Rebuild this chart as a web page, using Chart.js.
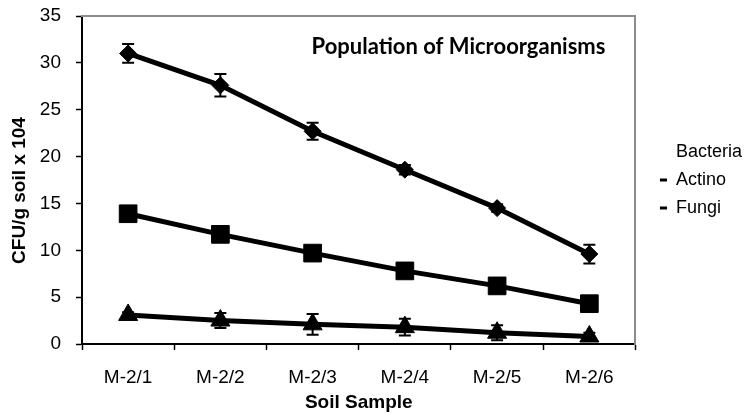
<!DOCTYPE html>
<html>
<head>
<meta charset="utf-8">
<script src="https://cdn.jsdelivr.net/npm/chart.js@4.4.1/dist/chart.umd.min.js"></script>
<style>
  html, body { margin: 0; padding: 0; background: #ffffff; }
  #wrap { width: 746px; height: 416px; }
</style>
</head>
<body>
<div id="wrap"><canvas id="chart" width="746" height="416"></canvas></div>
<script>
// Soil samples along the x axis
const samples = ['M-2/1', 'M-2/2', 'M-2/3', 'M-2/4', 'M-2/5', 'M-2/6'];

// Colony counts (CFU/g soil x 10^4) and their standard errors
const bacteria    = [31.0, 27.6, 22.7, 18.6, 14.5, 9.6];
const bacteriaErr = [1.0, 1.2, 0.9, 0.5, 0.4, 1.0];
const actino      = [13.9, 11.7, 9.7, 7.8, 6.2, 4.3];
const actinoErr   = [0.6, 0.5, 0.5, 0.4, 0.4, 0.3];
const fungi       = [3.1, 2.5, 2.1, 1.8, 1.2, 0.8];
const fungiErr    = [0.3, 0.8, 1.1, 0.9, 0.8, 0.4];

// Y axis ticks
const yTicks = [0, 5, 10, 15, 20, 25, 30, 35];

const chartTitle = 'Population of Microorganisms';
const yTitle = 'CFU/g soil x 104';
const xTitle = 'Soil Sample';

const BASE_FONT = 'Liberation Sans';

// Vertical error bars with caps, drawn from each point's value +/- error
const errorBars = {
  id: 'errorBars',
  afterDatasetsDraw(chart) {
    const ctx = chart.ctx;
    const yScale = chart.scales.y;
    ctx.save();
    ctx.strokeStyle = '#000';
    ctx.lineWidth = 2;
    chart.data.datasets.forEach((ds, i) => {
      const meta = chart.getDatasetMeta(i);
      meta.data.forEach((pt, j) => {
        const v = ds.data[j], e = ds.errors[j];
        const top = yScale.getPixelForValue(v + e);
        const bot = yScale.getPixelForValue(v - e);
        const cap = 6;
        ctx.beginPath();
        ctx.moveTo(pt.x, top); ctx.lineTo(pt.x, bot);
        ctx.moveTo(pt.x - cap, top); ctx.lineTo(pt.x + cap, top);
        ctx.moveTo(pt.x - cap, bot); ctx.lineTo(pt.x + cap, bot);
        ctx.stroke();
      });
    });
    ctx.restore();
  }
};

// Chart heading placed inside the upper right of the plot area
const innerTitle = {
  id: 'innerTitle',
  afterDraw(chart) {
    const {ctx, chartArea} = chart;
    ctx.save();
    ctx.fillStyle = '#000';
    ctx.font = 'bold 22px Lato';
    ctx.textAlign = 'center';
    ctx.textBaseline = 'middle';
    ctx.fillText(chartTitle, chartArea.right - 177, chartArea.top + 31);
    ctx.restore();
  }
};

const seriesStyle = (label, data, errors, pointStyle, radius) => ({
  label, data, errors, pointStyle,
  pointRadius: radius,
  pointHoverRadius: radius,
  pointBorderWidth: 1,
  pointBackgroundColor: '#000',
  pointBorderColor: '#000',
  borderColor: '#000',
  backgroundColor: '#000',
  borderWidth: 5,
  tension: 0,
  fill: false
});

new Chart(document.getElementById('chart'), {
  type: 'line',
  data: {
    labels: samples,
    datasets: [
      seriesStyle('Bacteria', bacteria, bacteriaErr, 'rectRot', 8.5),
      seriesStyle('Actino', actino, actinoErr, 'rect', 12.5),
      seriesStyle('Fungi', fungi, fungiErr, 'triangle', 11)
    ]
  },
  options: {
    responsive: false,
    animation: false,
    layout: { padding: { top: 16, right: -6, bottom: 0, left: 0 } },
    scales: {
      x: {
        type: 'category',
        offset: true,
        grid: { offset: true, drawOnChartArea: false, drawTicks: true, tickLength: 6, tickColor: '#000', tickWidth: 1.5 },
        border: { display: true, color: '#000', width: 2 },
        ticks: { color: '#000', padding: 16.6, font: { family: BASE_FONT, size: 19 } },
        title: { display: true, text: xTitle, color: '#000', padding: { top: 2.2, bottom: 1.6 },
                 font: { family: BASE_FONT, size: 19, weight: 'bold' } },
        afterFit(scale) { scale.height = 72; }
      },
      y: {
        min: 0, max: 35,
        afterBuildTicks(scale) { scale.ticks = yTicks.map(v => ({ value: v })); },
        grid: { drawOnChartArea: false, drawTicks: true, tickLength: 6, tickColor: '#000', tickWidth: 1.5 },
        border: { display: true, color: '#000', width: 2 },
        ticks: { color: '#000', padding: 15, font: { family: BASE_FONT, size: 19 } },
        title: { display: true, text: yTitle + '    ', color: '#000', padding: { top: 8.6, bottom: 8.6 },
                 font: { family: BASE_FONT, size: 19, weight: 'bold' } },
        afterFit(scale) {
          scale.width = 82;
          scale.paddingTop = 0;
          scale.paddingBottom = 0;
        }
      },
      x2: {
        type: 'linear', position: 'top', display: true,
        grid: { display: false, drawTicks: false },
        ticks: { display: false },
        border: { display: true, color: '#8c8c8c', width: 2 },
        afterFit(scale) { scale.height = 0; }
      },
      y2: {
        type: 'linear', position: 'right', display: true,
        grid: { display: false, drawTicks: false },
        ticks: { display: false },
        border: { display: true, color: '#8c8c8c', width: 2 },
        afterFit(scale) { scale.width = 14.5; }
      }
    },
    plugins: {
      tooltip: { enabled: false },
      title: { display: false },
      legend: {
        position: 'right',
        align: 'center',
        fullSize: false,
        labels: {
          usePointStyle: true,
          boxWidth: 7,
          boxHeight: 5,
          padding: 10,
          color: '#000',
          font: { family: BASE_FONT, size: 18 },
          generateLabels(chart) {
            return chart.data.datasets.map((ds, i) => ({
              text: ds.label,
              pointStyle: 'line',
              fillStyle: '#000',
              strokeStyle: i === 0 ? 'rgba(0,0,0,0)' : '#000',
              lineWidth: i === 0 ? 0 : 3,
              fontColor: '#000',
              hidden: false,
              datasetIndex: i
            }));
          }
        }
      }
    }
  },
  plugins: [errorBars, innerTitle]
});
</script>
</body>
</html>
